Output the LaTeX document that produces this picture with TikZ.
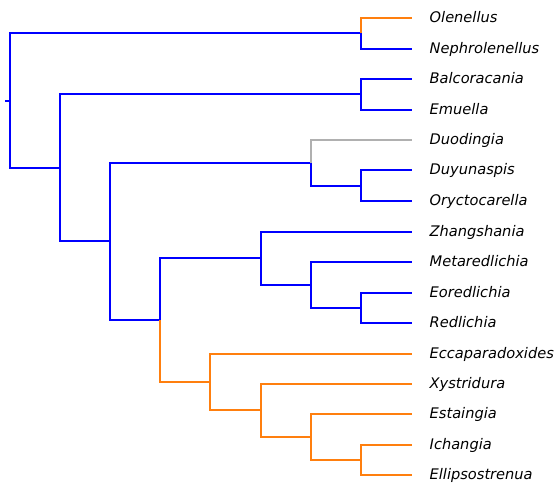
\documentclass[tikz,border=0pt]{standalone}
\usepackage{fontspec}
\setmainfont{DejaVu Sans}
\usepackage{xcolor}
\definecolor{treeblue}{RGB}{0,0,255}
\definecolor{treeorange}{RGB}{255,127,14}
\definecolor{treegray}{RGB}{176,176,176}
\tikzset{
  taxon/.style={anchor=west,inner xsep=17.5pt,inner ysep=0pt,text height=0.82em,text depth=0pt,
    font=\fontsize{14.6}{17}\selectfont\itshape},
  branch/.style={line width=2pt}}

\begin{document}
\begin{tikzpicture}[x=1pt,y=-1pt]
\useasboundingbox (0,0) rectangle (555,485);
% leaves
\foreach \n/\y/\t in {olen/18/Olenellus,neph/49/Nephrolenellus,balc/79/Balcoracania,
  emue/110/Emuella,duod/140/Duodingia,duyu/170/Duyunaspis,oryc/201/Oryctocarella,
  zhan/232/Zhangshania,meta/262/Metaredlichia,eore/293/Eoredlichia,redl/323/Redlichia,
  ecca/354/Eccaparadoxides,xyst/384/Xystridura,esta/414/Estaingia,icha/445/Ichangia,
  elli/475/Ellipsostrenua}
  \node[taxon] (\n) at (412,\y) {\t};
% internal nodes
\coordinate (r0) at (5,101);
\coordinate (r) at (10,101);
\coordinate (c1) at (361,33);
\coordinate (c2) at (60,168);
\coordinate (c3) at (361,94);
\coordinate (c4) at (110,241);
\coordinate (c5) at (311,163);
\coordinate (c6) at (361,186);
\coordinate (c7) at (160,320);
\coordinate (c8) at (261,258);
\coordinate (c9) at (311,285);
\coordinate (c10) at (361,308);
\coordinate (c11) at (210,382);
\coordinate (c12) at (261,410);
\coordinate (c13) at (311,437);
\coordinate (c14) at (361,460);
% branches
\draw[branch,treeblue] (r0) -- (r);
\foreach \a/\b in {r/c1,r/c2,c1/neph,c2/c3,c3/balc,c3/emue,c2/c4,c4/c5,c5/c6,c6/duyu,c6/oryc,
  c4/c7,c7/c8,c8/zhan,c8/c9,c9/meta,c9/c10,c10/eore,c10/redl}
  \draw[branch,treeblue] (\a) |- (\b);
\foreach \a/\b in {c1/olen,c7/c11,c11/ecca,c11/c12,c12/xyst,c12/c13,c13/esta,c13/c14,c14/icha,c14/elli}
  \draw[branch,treeorange] (\a) |- (\b);
\draw[branch,treegray] (c5) |- (duod);
\end{tikzpicture}
\end{document}
